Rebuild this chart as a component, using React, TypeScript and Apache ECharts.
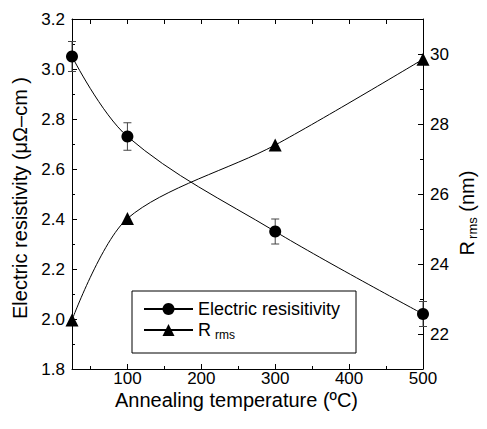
import React, { useEffect, useRef } from "react";
import * as echarts from "echarts";

const temps = [25, 100, 300, 500];
const resistivity = [3.05, 2.73, 2.35, 2.02];
const resistivityErr = [0.06, 0.055, 0.05, 0.05];
const rrms = [22.4, 25.3, 27.4, 29.85];
const xTickLabels = [100, 200, 300, 400, 500];
const xMinorTicks = [50, 150, 250, 350, 450];
const rightTickLabels = [22, 24, 26, 28, 30];
const rightMinorTicks = [23, 25, 27, 29];

export default function App() {
  const ref = useRef<HTMLDivElement>(null);
  useEffect(() => {
    const chart = echarts.init(ref.current!, null, { renderer: "svg" });
    const font = "'Liberation Sans', Arial, sans-serif";
    const black = "#000";
    const axisLine = { show: true, lineStyle: { color: black, width: 1 } };
    const noLabel = { show: false };
    const option: any = {
      animation: false,
      backgroundColor: "#fff",
      textStyle: { fontFamily: font, color: black },
      grid: { left: 72, right: 62, top: 19, bottom: 60, containLabel: false },
      legend: {
        data: ["Electric resisitivity", "Rrms"],
        orient: "vertical",
        left: 132,
        top: 291,
        itemWidth: 49,
        itemHeight: 15,
        itemGap: 3,
        itemTextGap: 5,
        borderColor: black,
        borderWidth: 1,
        borderRadius: 0,
        padding: [9, 16, 12, 11],
        formatter: (name: string) => (name === "Rrms" ? "{r|R}{s|rms}" : name),
        textStyle: {
          fontSize: 18,
          color: black,
          fontFamily: font,
          rich: {
            r: { fontSize: 18, lineHeight: 22, color: black, fontFamily: font },
            s: { fontSize: 12, lineHeight: 12, verticalAlign: "bottom", color: black, fontFamily: font, padding: [0, 0, 0, 4] },
          },
        },
      },
      xAxis: [
        {
          type: "value",
          position: "bottom",
          min: 25,
          max: 500,
          axisLine,
          splitLine: { show: false },
          axisTick: { show: true, inside: true, length: 5, customValues: xTickLabels, lineStyle: { color: black } },
          axisLabel: { customValues: xTickLabels, fontSize: 17, color: black, fontFamily: font, margin: 1 },
          name: "Annealing temperature (ºC)",
          nameLocation: "middle",
          nameGap: 21,
          nameMoveOverlap: false,
          nameTextStyle: { fontSize: 20, color: black, fontFamily: font, padding: [0, 22, 0, 0] },
        },
        {
          type: "value",
          position: "bottom",
          min: 25,
          max: 500,
          axisLine: { show: false },
          splitLine: { show: false },
          axisTick: { show: true, inside: true, length: 3, customValues: xMinorTicks, lineStyle: { color: black } },
          axisLabel: noLabel,
        },
        {
          type: "value",
          position: "top",
          min: 25,
          max: 500,
          axisLine,
          splitLine: { show: false },
          axisTick: {
            show: true,
            inside: true,
            length: 5,
            customValues: [...xMinorTicks, ...xTickLabels].sort((a, b) => a - b),
            lineStyle: { color: black },
          },
          axisLabel: noLabel,
        },
      ],
      yAxis: [
        {
          type: "value",
          position: "left",
          min: 1.8,
          max: 3.2,
          interval: 0.2,
          axisLine,
          splitLine: { show: false },
          axisTick: { show: true, inside: true, length: 5, lineStyle: { color: black } },
          minorTick: { show: true, splitNumber: 2, length: 3, lineStyle: { color: black } },
          axisLabel: { fontSize: 17, color: black, fontFamily: font, margin: 7, formatter: (v: number) => v.toFixed(1) },
          name: "Electric resistivity (μΩ–cm )",
          nameLocation: "middle",
          nameGap: 42,
          nameRotate: 90,
          nameMoveOverlap: false,
          nameTextStyle: { fontSize: 20, color: black, fontFamily: font, padding: [0, 8, 0, 0] },
        },
        {
          type: "value",
          position: "right",
          min: 21,
          max: 31,
          axisLine,
          splitLine: { show: false },
          axisTick: { show: true, inside: true, length: 5, customValues: rightTickLabels, lineStyle: { color: black } },
          axisLabel: { customValues: rightTickLabels, fontSize: 17, color: black, fontFamily: font, margin: 7 },
          name: "{r|R}{s|rms} (nm)",
          nameLocation: "middle",
          nameGap: 32,
          nameRotate: 90,
          nameMoveOverlap: false,
          nameTextStyle: {
            fontSize: 20,
            color: black,
            fontFamily: font,
            padding: [0, 38, 0, 0],
            rich: {
              r: { fontSize: 20, lineHeight: 24, color: black, fontFamily: font },
              s: { fontSize: 13, lineHeight: 12, verticalAlign: "bottom", color: black, fontFamily: font, padding: [0, 0, 0, 2] },
            },
          },
        },
        {
          type: "value",
          position: "right",
          min: 21,
          max: 31,
          axisLine: { show: false },
          splitLine: { show: false },
          axisTick: { show: true, inside: true, length: 3, customValues: rightMinorTicks, lineStyle: { color: black } },
          axisLabel: noLabel,
        },
      ],
      series: [
        {
          type: "custom",
          name: "err",
          xAxisIndex: 0,
          yAxisIndex: 0,
          z: 1,
          clip: false,
          data: temps.map((t, i) => [t, resistivity[i] - resistivityErr[i], resistivity[i] + resistivityErr[i]]),
          renderItem: (params: any, api: any) => {
            const lo = api.coord([api.value(0), api.value(1)]);
            const hi = api.coord([api.value(0), api.value(2)]);
            const w = 4;
            const style = { stroke: "#444", lineWidth: 1 };
            return {
              type: "group",
              children: [
                { type: "line", shape: { x1: lo[0], y1: lo[1], x2: hi[0], y2: hi[1] }, style },
                { type: "line", shape: { x1: lo[0] - w, y1: lo[1], x2: lo[0] + w, y2: lo[1] }, style },
                { type: "line", shape: { x1: hi[0] - w, y1: hi[1], x2: hi[0] + w, y2: hi[1] }, style },
              ],
            };
          },
        },
        {
          type: "line",
          name: "Electric resisitivity",
          xAxisIndex: 0,
          yAxisIndex: 0,
          z: 3,
          clip: false,
          smooth: 0.35,
          symbol: "circle",
          symbolSize: 12,
          showAllSymbol: true,
          lineStyle: { color: black, width: 1 },
          itemStyle: { color: black },
          data: temps.map((t, i) => [t, resistivity[i]]),
        },
        {
          type: "line",
          name: "Rrms",
          xAxisIndex: 0,
          yAxisIndex: 1,
          z: 3,
          clip: false,
          smooth: 0.3,
          symbol: "triangle",
          symbolSize: 13,
          showAllSymbol: true,
          lineStyle: { color: black, width: 1 },
          itemStyle: { color: black },
          data: temps.map((t, i) => [t, rrms[i]]),
        },
      ],
    };
    chart.setOption(option);
    return () => chart.dispose();
  }, []);
  return (
    <div
      ref={ref}
      style={{ position: "fixed", left: 0, top: 0, width: 487, height: 429, background: "#fff" }}
    />
  );
}
